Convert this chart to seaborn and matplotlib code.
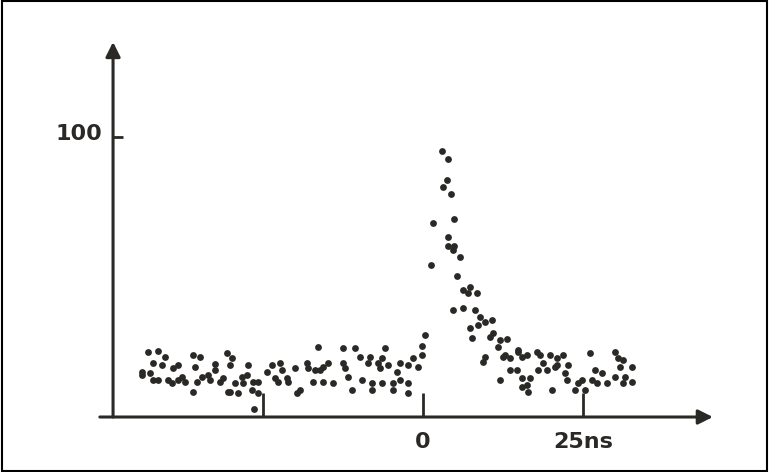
import matplotlib
matplotlib.use("Agg")
import matplotlib.pyplot as plt
from matplotlib.patches import Rectangle
from matplotlib.transforms import ScaledTranslation
import pandas as pd
import seaborn as sns

# time (ns) and counts
time_ns = [
    -43.0, -41.4, -40.3, -42.2, -40.8, -43.8, -43.9, -42.7, -42.2, -41.4,
    -39.1, -38.3, -39.8, -39.2, -37.7, -38.3, -37.2, -35.9, -34.8, -35.6,
    -35.3, -34.5, -33.6, -33.3, -32.5, -32.5, -31.7, -31.3, -35.9, -30.6,
    -30.5, -26.4, -29.8, -30.2, -27.3, -28.3, -27.5, -29.4, -28.1, -26.6,
    -25.8, -30.2, -28.9, -26.7, -25.8, -24.4, -23.6, -22.3, -22.0, -23.1,
    -22.7, -21.3, -21.1, -20.0, -18.1, -18.0, -16.9, -16.1, -16.4, -17.2,
    -15.6, -19.2, -19.7, -12.5, -10.6, -5.9, -0.2, -9.8, -8.3, -6.4,
    -1.6, -14.8, -15.6, -12.5, -8.6, -7.0, -5.5, -3.6, -2.3, -0.8,
    -12.2, -6.7, -4.1, -11.7, -14.1, -9.5, -8.0, -6.4, -4.7, -3.6,
    -2.3, -11.1, -8.0, -4.7, -2.3, 0.3, -0.2,
    3.0, 3.9, 3.8, 3.1, 4.4, 1.6, 4.8, 3.9, 3.9, 4.8,
    4.7, 5.8, 1.3, 5.3, 7.3, 6.3, 7.0, 8.4, 4.7, 6.3,
    8.1, 8.9, 9.7, 10.8, 7.3, 8.6, 7.7, 10.9, 10.5, 12.0,
    13.1, 11.7, 14.8, 16.3, 17.8, 9.4, 12.5, 13.6, 13.6, 14.7,
    12.0, 15.5, 16.7, 15.5, 16.4, 9.7, 12.8, 14.8, 15.5, 18.3,
    19.8, 20.9, 18.8, 18.0, 19.4, 20.6, 16.3, 20.2,
    21.9, 26.1, 30.0, 30.5, 31.3, 20.9, 22.7, 22.2, 22.5, 26.9,
    28.0, 30.8, 32.7, 30.0, 31.6, 31.3, 32.7, 26.4, 27.2, 28.8,
    24.8, 24.2, 23.8, 25.3,
]
counts = [
    23.2, 23.6, 21.4, 19.3, 18.6, 16.1, 15.0, 15.7, 13.2, 13.2,
    17.5, 18.6, 13.2, 12.1, 14.3, 13.2, 12.5, 22.1, 21.4, 17.9,
    12.5, 14.3, 15.0, 13.2, 18.9, 16.8, 12.5, 13.9, 8.9, 22.9,
    8.9, 2.9, 21.1, 18.6, 18.6, 14.3, 15.0, 12.1, 12.1, 12.5,
    12.5, 8.9, 8.6, 9.6, 8.6, 16.1, 18.6, 19.3, 16.8, 13.9,
    12.5, 13.9, 12.5, 17.5, 19.3, 17.5, 16.8, 16.8, 25.0, 12.5,
    12.5, 9.6, 8.6, 24.6, 24.6, 24.6, 25.4, 21.4, 21.4, 21.1,
    21.1, 19.3, 17.9, 19.3, 19.3, 19.3, 18.6, 19.3, 18.6, 17.9,
    17.5, 17.5, 16.1, 14.3, 12.1, 13.2, 12.1, 12.1, 12.1, 13.2,
    12.1, 9.6, 9.6, 9.6, 8.6, 29.3, 22.1,
    95.0, 92.1, 84.6, 82.1, 79.6, 69.3, 70.7, 64.3, 61.1, 61.1,
    59.6, 57.1, 54.3, 50.4, 46.4, 45.4, 44.3, 44.3, 38.2, 38.9,
    38.2, 35.7, 33.9, 34.6, 31.8, 32.9, 28.2, 30.0, 28.6, 27.5,
    27.9, 25.0, 23.9, 22.1, 23.2, 19.6, 21.4, 21.1, 16.8, 16.8,
    13.2, 13.9, 13.9, 10.7, 8.9, 21.4, 22.1, 23.2, 21.4, 22.1,
    22.1, 21.1, 19.3, 16.8, 16.8, 17.9, 11.4, 9.6,
    22.1, 22.9, 23.2, 21.1, 20.4, 18.6, 18.6, 15.7, 13.2, 16.8,
    15.7, 17.9, 17.9, 14.3, 14.3, 12.1, 12.5, 13.2, 12.1, 12.1,
    13.2, 12.1, 9.6, 9.6,
]
x_ticks = [-25, 0, 25]
x_tick_labels = ["", "0", "25ns"]
y_ticks = [100]
y_tick_labels = ["100"]

ink = "#2b2926"

sns.set_theme(style="white")
plt.rcParams['font.family'] = ['DejaVu Sans']

fig = plt.figure(figsize=(7.69, 4.72), dpi=100)
ax = fig.add_axes([0.147, 0.1165, 0.78, 0.7945])

df = pd.DataFrame({"t": time_ns, "n": counts})
sns.scatterplot(data=df, x="t", y="n", ax=ax, s=24, color=ink,
                edgecolor=ink, linewidth=0, legend=False)

ax.set_xlim(-48.4, 45.3)
ax.set_ylim(0, 134)
ax.set_xlabel("")
ax.set_ylabel("")
for sp in ax.spines.values():
    sp.set_visible(False)

# hand-drawn style axes with arrows
arrow = dict(arrowstyle='-|>', color=ink, lw=2.2, mutation_scale=22,
             shrinkA=0, shrinkB=0)
ax.annotate("", xy=(1.0, 0), xytext=(-0.022, 0), xycoords='axes fraction',
            arrowprops=arrow, annotation_clip=False)
ax.annotate("", xy=(0, 1.0), xytext=(0, 0), xycoords='axes fraction',
            arrowprops=arrow, annotation_clip=False)

ax.set_xticks(x_ticks)
ax.set_xticklabels(x_tick_labels, fontweight='bold', fontsize=16, color=ink)
ax.set_yticks(y_ticks)
ax.set_yticklabels(y_tick_labels, fontweight='bold', fontsize=16, color=ink)
ax.tick_params(axis='x', bottom=True, direction='in', length=17, width=2,
               pad=11, color=ink)
ax.tick_params(axis='y', left=True, direction='in', length=7, width=2,
               pad=8, color=ink)
# the "100" sits a touch above its tick in the original
for lab in ax.get_yticklabels():
    lab.set_transform(lab.get_transform() + ScaledTranslation(0, 4 / 72, fig.dpi_scale_trans))

fig.patches.append(Rectangle((0.002, 0.003), 0.996, 0.994, transform=fig.transFigure,
                             fill=False, edgecolor='black', lw=1.5))

fig.savefig("out.png", dpi=100)
